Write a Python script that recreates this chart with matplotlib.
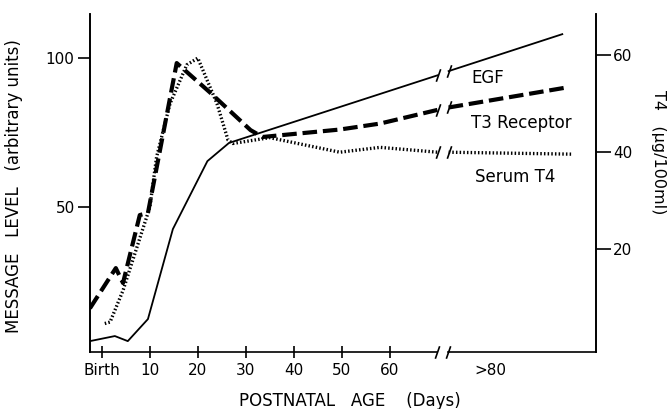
import matplotlib
matplotlib.use("Agg")
import matplotlib.pyplot as plt
import numpy as np
from matplotlib.path import Path
from matplotlib.ticker import FixedLocator, FixedFormatter

# values (days after birth; beyond the break the
# axis is not to scale, ">80" sits at 81)
egf_days = [-2.5, 2.7, 5.4, 9.6, 14.8, 22, 26.5, 70, 72.3, 96]
egf_level = [5, 6.7, 5, 12.4, 42.6, 65.4, 71.5, 94.2, 95.6, 108]

t3_days = [-2.5, 2.9, 4.4, 7.9, 9.6, 15.6, 22.5, 31, 33.5, 49.6, 58, 70, 72.3, 96.5]
t3_level = [16, 29.5, 24.5, 47.3, 48, 98.3, 88.5, 75.8, 73.5, 76, 78, 82.6, 83.4, 90]

t4_days = [0.6, 1.7, 4.4, 10, 11.4, 14.2, 17.7, 20, 24, 26.3, 27.3, 35, 49.6, 58, 70, 72.3, 98]
t4_serum = [4.7, 5, 11.5, 28.7, 39, 50, 58, 59.4, 50, 42.5, 41.8, 43, 40, 41, 40, 40, 39.6]

x_ticks = [0, 10, 20, 30, 40, 50, 60]
x_labels = ["Birth", "10", "20", "30", "40", "50", "60"]
late_pos = 81
late_label = ">80"
break_at = 71

plt.rcParams['font.family'] = ['DejaVu Sans']

fig = plt.figure(figsize=(6.71, 4.09), dpi=100)
ax = fig.add_axes([0.134, 0.139, 0.754, 0.827])
ax2 = ax.twinx()

slash = Path([(-0.35, -1), (0.35, 1)])


def draw_broken(axis, xs, ys, **kw):
    xs = np.array(xs)
    ys = np.array(ys)
    left = xs < break_at
    right = ~left
    for m in (left, right):
        axis.plot(xs[m], ys[m], color="black", **kw)
    # break marks at the end of the first part and start of the second
    axis.plot([xs[left][-1], xs[right][0]], [ys[left][-1], ys[right][0]],
              ls="none", marker=slash, ms=9, mew=1.2, color="black")


draw_broken(ax, egf_days, egf_level, lw=1.3)
draw_broken(ax, t3_days, t3_level, lw=3.0, ls=(0, (3.5, 1.4)))
draw_broken(ax2, t4_days, t4_serum, lw=2.4, ls=(0, (0.45, 0.65)))

ax.set_xlim(-2.5, 103)
ax.set_ylim(1.3, 114.8)
ax2.set_ylim(-1.2, 68.5)

for a in (ax, ax2):
    a.spines['top'].set_visible(False)
    a.spines['bottom'].set_visible(False)
    for s in ('left', 'right'):
        a.spines[s].set_linewidth(1.2)

# bottom axis line with a break
tr = ax.get_xaxis_transform()
ax.plot([-2.5, break_at - 1.1], [0, 0], color="black", lw=1.2, transform=tr, clip_on=False)
ax.plot([break_at + 1.1, 103], [0, 0], color="black", lw=1.2, transform=tr, clip_on=False)
ax.plot([break_at - 1.1, break_at + 1.1], [0, 0], ls="none", marker=slash, ms=9, mew=1.2,
        color="black", transform=tr, clip_on=False)

ax.set_xticks(x_ticks)
ax.set_xticklabels(x_labels)
ax.xaxis.set_minor_locator(FixedLocator([late_pos]))
ax.xaxis.set_minor_formatter(FixedFormatter([late_label]))
ax.tick_params(axis='x', which='major', direction='inout', length=9, width=1.2, labelsize=11, pad=3)
ax.tick_params(axis='x', which='minor', length=0, labelsize=11, pad=7.5)

ax.set_yticks([50, 100])
ax.tick_params(axis='y', direction='out', length=9, width=1.2, labelsize=11, pad=2)
ax2.set_yticks([20, 40, 60])
ax2.tick_params(axis='y', direction='out', length=10.5, width=1.2, labelsize=11, pad=2)

ax.set_ylabel("MESSAGE   LEVEL   (arbitrary units)", fontsize=12)
ax.yaxis.set_label_coords(-0.132, 0.49)
ax2.set_ylabel("T4   (\u00b5g/100ml)", fontsize=11.5, rotation=-90, va="center")
ax2.yaxis.set_label_coords(1.124, 0.59)
ax.set_xlabel("POSTNATAL   AGE    (Days)", fontsize=12)
ax.xaxis.set_label_coords(0.513, -0.118)

ax.text(77, 93.3, "EGF", fontsize=12, va="center")
ax.text(77, 78.2, "T3 Receptor", fontsize=12, va="center")
ax.text(77.7, 60, "Serum T4", fontsize=12, va="center")

fig.savefig("out.png", dpi=100)
